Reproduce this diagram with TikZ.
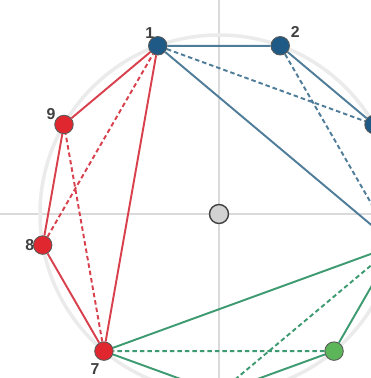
\documentclass[tikz,border=0pt]{standalone}
\usepackage{fontspec}
\setmainfont{Liberation Sans}
\definecolor{bluept}{HTML}{1E5A85}
\definecolor{blueln}{HTML}{4F7C99}
\definecolor{redpt}{HTML}{E0262F}
\definecolor{redln}{HTML}{D8404D}
\definecolor{greenpt}{HTML}{5DB55A}
\definecolor{greenln}{HTML}{3E9A70}
\definecolor{gridgray}{HTML}{DADADA}
\begin{document}
\begin{tikzpicture}[x=0.02cm, y=0.02cm,
        pt/.style={circle, draw=black!65, line width=0.5pt, inner sep=0pt, minimum size=0.37cm},
        lbl/.style={font=\bfseries\small, text=black!75, inner sep=1pt},
        edge/.style={line width=1.1pt},
        diag/.style={line width=1.1pt, dash pattern=on 0.09cm off 0.06cm}]

        \useasboundingbox (0,0) rectangle (371,378);
        \clip (0,0) rectangle (371,378);

        % Axes
        \draw[gridgray, line width=1.2pt] (219,0) -- (219,378);
        \draw[gridgray, line width=1.2pt] (0,164) -- (371,164);

        % Circle
        \coordinate (c) at (219,164);
        \draw[black!8, line width=2pt] (c) circle (179);

        % Points on the circle
        \foreach \k/\col in {1/bluept, 2/bluept, 3/bluept, 4/greenpt, 5/greenpt,
                6/greenpt, 7/redpt, 8/redpt, 9/redpt}
            \path (c) ++({110-40*(\k-1)}:179) node[pt, fill=\col] (p\k) {};

        % Centre
        \node[pt, fill=gray!35, draw=black!75, line width=0.8pt, minimum size=0.38cm] (o) at (c) {};

        % Blue quadrilateral
        \draw[edge, blueln] (p1) -- (p2) -- (p3) -- (p4) (p4) -- (p1);
        \draw[diag, blueln] (p1) -- (p3) (p2) -- (p4);

        % Green quadrilateral
        \draw[edge, greenln] (p4) -- (p5) -- (p6) -- (p7) (p7) -- (p4);
        \draw[diag, greenln] (p4) -- (p6) (p5) -- (p7);

        % Red quadrilateral
        \draw[edge, redln] (p7) -- (p8) -- (p9) -- (p1) (p1) -- (p7);
        \draw[diag, redln] (p7) -- (p9) (p8) -- (p1);

        % Labels
        \node[lbl] (l1) at ([shift={(-8,13)}]p1) {1};
        \node[lbl] (l2) at ([shift={(15,14)}]p2) {2};
        \node[lbl] (l9) at ([shift={(-13,10)}]p9) {9};
        \node[lbl] (l8) at ([shift={(-13,0)}]p8) {8};
        \node[lbl] (l7) at ([shift={(-9,-18)}]p7) {7};
    \end{tikzpicture}
\end{document}
